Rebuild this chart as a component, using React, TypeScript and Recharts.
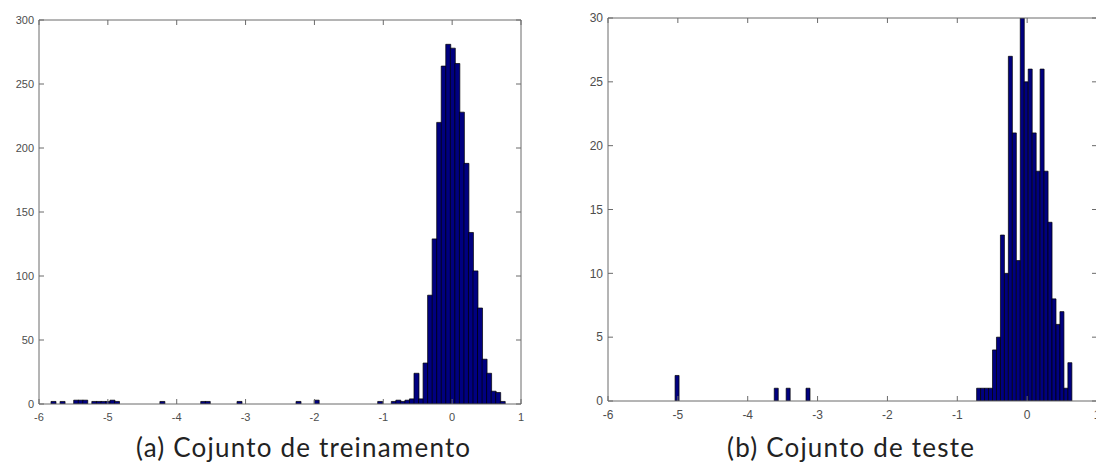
import React from 'react';
import { BarChart, Bar, XAxis, YAxis } from 'recharts';

// (a) training set histogram: bin centres and counts (non-empty bins)
const trainBinCenters = [
  -5.793, -5.6612, -5.4635, -5.3976, -5.3317, -5.1999, -5.134, -5.0681, -5.0022, -4.9363,
  -4.8704, -4.2114, -3.6183, -3.5524, -3.0911, -2.2344, -1.9708, -1.0482,
  -0.8505, -0.7846, -0.7187, -0.6528, -0.5869, -0.521, -0.4551, -0.3892, -0.3233, -0.2574,
  -0.1915, -0.1256, -0.0597, 0.0062, 0.0721, 0.138, 0.2039, 0.2698, 0.3357, 0.4016,
  0.4675, 0.5334, 0.5993, 0.6652, 0.7311,
];
const trainCounts = [
  2, 2, 3, 3, 3, 2, 2, 2, 2, 3,
  2, 2, 2, 2, 2, 2, 3, 2,
  2, 3, 2, 3, 4, 24, 4, 32, 85, 129,
  220, 264, 281, 278, 266, 228, 188, 134, 104, 75,
  35, 24, 10, 9, 2,
];

// (b) test set histogram: bin centres and counts (non-empty bins)
const testBinCenters = [
  -5.0116, -3.5916, -3.4212, -3.1372,
  -0.6948, -0.638, -0.5812, -0.5244, -0.4676, -0.4108, -0.354, -0.2972, -0.2404, -0.1836,
  -0.1268, -0.07, -0.0132, 0.0436, 0.1004, 0.1572, 0.214, 0.2708, 0.3276, 0.3844,
  0.4412, 0.498, 0.5548, 0.6116,
];
const testCounts = [
  2, 1, 1, 1,
  1, 1, 1, 1, 4, 5, 13, 10, 27, 21,
  11, 30, 25, 26, 21, 18, 26, 18, 14, 8,
  6, 7, 1, 3,
];

const xTicks = [-6, -5, -4, -3, -2, -1, 0, 1];
const trainYTicks = [0, 50, 100, 150, 200, 250, 300];
const testYTicks = [0, 5, 10, 15, 20, 25, 30];
const captionA = '(a) Cojunto de treinamento';
const captionB = '(b) Cojunto de teste';

const trainData = trainBinCenters.map((x, i) => ({ x, count: trainCounts[i] }));
const testData = testBinCenters.map((x, i) => ({ x, count: testCounts[i] }));

const FRAME = '#6a6a6a';
const EmptyTick = () => <g />;

type HistProps = {
  data: { x: number; count: number }[];
  yTicks: number[];
  width: number;
  height: number;
  margin: { top: number; right: number; bottom: number; left: number };
  yAxisWidth: number;
  fontSize: number;
};

function Histogram({ data, yTicks, width, height, margin, yAxisWidth, fontSize }: HistProps) {
  const yMax = yTicks[yTicks.length - 1];
  const tickStyle = {
    fontSize,
    fill: '#4d4d4d',
    fontFamily: '"Liberation Sans Narrow", "Liberation Sans", Arial, sans-serif',
  };
  return (
    <BarChart
      width={width}
      height={height}
      data={data}
      margin={margin}
      barCategoryGap={0}
      barGap={0}
    >
      <XAxis
        xAxisId="b"
        dataKey="x"
        type="number"
        domain={[-6, 1]}
        allowDataOverflow
        ticks={xTicks}
        interval={0}
        height={30}
        stroke={FRAME}
        tickSize={-5}
        tickMargin={14}
        tick={tickStyle}
      />
      <XAxis
        xAxisId="t"
        dataKey="x"
        orientation="top"
        type="number"
        domain={[-6, 1]}
        allowDataOverflow
        ticks={xTicks}
        interval={0}
        height={1}
        stroke={FRAME}
        tickSize={-5}
        tick={EmptyTick}
      />
      <YAxis
        yAxisId="l"
        type="number"
        domain={[0, yMax]}
        allowDataOverflow
        ticks={yTicks}
        interval={0}
        width={yAxisWidth}
        stroke={FRAME}
        tickSize={-5}
        tickMargin={10}
        tick={tickStyle}
      />
      <YAxis
        yAxisId="r"
        orientation="right"
        type="number"
        domain={[0, yMax]}
        allowDataOverflow
        ticks={yTicks}
        interval={0}
        width={1}
        stroke={FRAME}
        tickSize={-5}
        tick={EmptyTick}
      />
      <Bar
        xAxisId="b"
        yAxisId="l"
        dataKey="count"
        fill="#000080"
        stroke="#000000"
        strokeWidth={0.7}
        isAnimationActive={false}
      />
      <Bar
        xAxisId="t"
        yAxisId="r"
        dataKey="count"
        fill="none"
        stroke="none"
        legendType="none"
        isAnimationActive={false}
      />
    </BarChart>
  );
}

const captionStyle: React.CSSProperties = {
  position: 'absolute',
  fontFamily: 'Lato, "Open Sans", sans-serif',
  fontSize: 26,
  letterSpacing: 1.2,
  lineHeight: '28px',
  color: '#222',
  whiteSpace: 'nowrap',
};

export default function App() {
  return (
    <div
      style={{
        position: 'absolute',
        left: 0,
        top: 0,
        width: 1096,
        height: 469,
        overflow: 'hidden',
        background: '#ffffff',
      }}
    >
      <div style={{ position: 'absolute', left: 0, top: 0 }}>
        <Histogram
          data={trainData}
          yTicks={trainYTicks}
          width={540}
          height={469}
          margin={{ top: 19, right: 18, bottom: 35, left: 0 }}
          yAxisWidth={39}
          fontSize={11}
        />
      </div>
      <div style={{ position: 'absolute', left: 540, top: 0 }}>
        <Histogram
          data={testData}
          yTicks={testYTicks}
          width={570}
          height={469}
          margin={{ top: 17, right: 12, bottom: 38, left: 0 }}
          yAxisWidth={68}
          fontSize={12}
        />
      </div>
      <div style={{ ...captionStyle, left: 136, top: 433 }}>{captionA}</div>
      <div style={{ ...captionStyle, left: 727, top: 433 }}>{captionB}</div>
    </div>
  );
}
